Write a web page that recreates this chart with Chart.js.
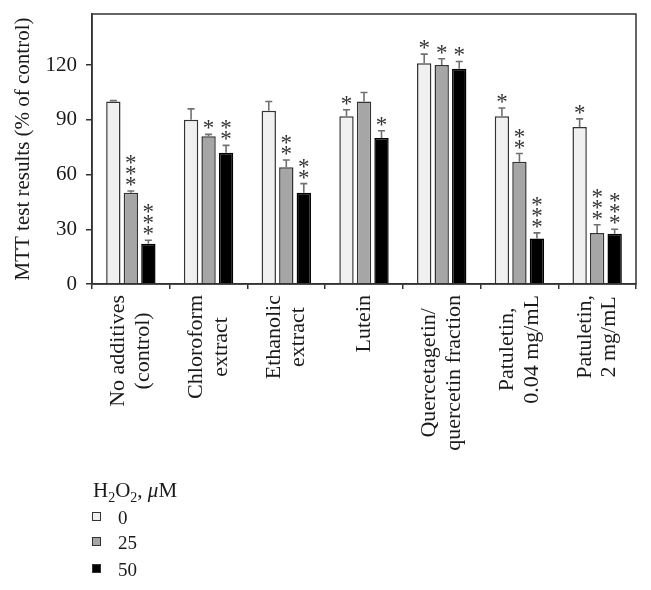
<!DOCTYPE html>
<html><head><meta charset="utf-8">
<script src="https://cdn.jsdelivr.net/npm/chart.js@4.4.1/dist/chart.umd.min.js"></script>
<style>
body{margin:0;background:#fff;}
#wrap{position:relative;width:651px;height:590px;overflow:hidden;background:#fff;}
canvas{position:absolute;left:0;top:0;}
#legend{position:absolute;left:0;top:0;width:651px;height:577px;overflow:hidden;pointer-events:none;font-family:'Liberation Serif',serif;color:#1a1a1a;}
.t{position:absolute;line-height:1;white-space:nowrap;}
.sw{position:absolute;width:7px;height:7px;border:1.2px solid #333;}
sub{font-size:14px;vertical-align:-5px;line-height:0;}
</style></head><body>
<div id="wrap"><canvas id="c" width="651" height="590"></canvas>
<div id="legend">
  <div class="t" style="left:93px;top:480px;font-size:21px;">H<sub>2</sub>O<sub>2</sub>, <i>μ</i>M</div>
  <div class="sw" style="left:92px;top:512px;background:#f0f0f0;"></div>
  <div class="t" id="l0" style="left:118px;top:508px;font-size:19px;"></div>
  <div class="sw" style="left:92px;top:537px;background:#a6a6a6;"></div>
  <div class="t" id="l1" style="left:118px;top:533px;font-size:19px;"></div>
  <div class="sw" style="left:92px;top:564px;background:#000;"></div>
  <div class="t" id="l2" style="left:118px;top:560px;font-size:19px;"></div>
</div>
</div>
<script>
const categories = [["No additives","(control)"],["Chloroform","extract"],["Ethanolic","extract"],"Lutein",["Quercetagetin/","quercetin fraction"],["Patuletin,","0.04 mg/mL"],["Patuletin,","2 mg/mL"]];
const seriesLabels = ["0","25","50"];
const h2o2_0  = [100, 90, 95, 92, 121, 92, 86];
const h2o2_25 = [50, 81, 64, 100, 120, 67, 28];
const h2o2_50 = [22, 72, 50, 80, 118, 25, 27.5];
const err_0  = [0.5, 6, 5, 3.5, 5, 4.5, 4.5];
const err_25 = [1, 1, 4, 5, 3.5, 4.5, 4.5];
const err_50 = [2, 4, 5, 4, 4, 3, 2.5];
const stars_0  = ["", "", "", "*", "*", "*", "*"];
const stars_25 = ["***", "*", "**", "", "*", "**", "***"];
const stars_50 = ["***", "**", "**", "*", "*", "***", "***"];
const yTicks = [0, 30, 60, 90, 120];
const yTitle = "MTT test results (% of control)";

const fills = ['#f0f0f0', '#a6a6a6', '#000000'];
const borders = ['#333333', '#333333', '#000000'];
const values = [h2o2_0, h2o2_25, h2o2_50];
const errs = [err_0, err_25, err_50];
const stars = [stars_0, stars_25, stars_50];

seriesLabels.forEach((s, i) => { document.getElementById('l' + i).textContent = s; });

Chart.defaults.font.family = "'Liberation Serif', serif";
Chart.defaults.color = '#1a1a1a';

const labelFix = {
  id: 'labelFix',
  beforeDraw(chart) {
    const s = chart.scales.x;
    const items = s.getLabelItems();
    if (items._fixed) return;
    items._fixed = true;
    const ctx = chart.ctx;
    items.forEach(it => {
      const lines = Array.isArray(it.label) ? it.label : [it.label];
      ctx.save(); ctx.font = it.font.string;
      const W = Math.max(...lines.map(l => ctx.measureText(l).width));
      ctx.restore();
      const lh = it.font.lineHeight;
      it.options.textAlign = 'center';
      it.options.translation[1] += W / 2;
      it.options.translation[0] -= (lines.length - 1) * lh / 2;
    });
  }
};

const extras = {
  id: 'extras',
  afterDatasetsDraw(chart) {
    const ctx = chart.ctx;
    const y = chart.scales.y;
    ctx.save();
    chart.data.datasets.forEach((ds, i) => {
      const meta = chart.getDatasetMeta(i);
      meta.data.forEach((el, j) => {
        const v = ds.data[j];
        const top = y.getPixelForValue(v + errs[i][j]);
        ctx.strokeStyle = '#707070';
        ctx.lineWidth = 1.6;
        ctx.beginPath();
        ctx.moveTo(el.x, el.y);
        ctx.lineTo(el.x, top);
        ctx.moveTo(el.x - 3.5, top);
        ctx.lineTo(el.x + 3.5, top);
        ctx.stroke();
        const n = stars[i][j].length;
        ctx.fillStyle = '#333';
        ctx.font = "23px 'Liberation Serif'";
        ctx.textAlign = 'center';
        ctx.textBaseline = 'alphabetic';
        const m = ctx.measureText('*');
        const asc = m.actualBoundingBoxAscent, desc = m.actualBoundingBoxDescent;
        for (let k = 0; k < n; k++) {
          const cy = top - 9.5 - k * 11;
          ctx.fillText('*', el.x, cy + (asc - desc) / 2);
        }
      });
    });
    const a = chart.chartArea;
    ctx.strokeStyle = '#333';
    ctx.lineWidth = 1.5;
    ctx.strokeRect(a.left, a.top, a.right - a.left, a.bottom - a.top);
    ctx.restore();
  }
};

new Chart(document.getElementById('c'), {
  type: 'bar',
  data: {
    labels: categories,
    datasets: values.map((d, i) => ({
      label: seriesLabels[i],
      data: d,
      backgroundColor: fills[i],
      borderColor: borders[i],
      borderWidth: 1.5,
      categoryPercentage: 0.676,
      barPercentage: 0.82
    }))
  },
  options: {
    responsive: false,
    animation: false,
    devicePixelRatio: 1,
    layout: { padding: { top: 14, right: 15, bottom: 126, left: 0 } },
    plugins: { legend: { display: false }, tooltip: { enabled: false } },
    scales: {
      x: {
        offset: true,
        grid: { drawOnChartArea: false, drawTicks: true, tickLength: 5, color: '#333', lineWidth: 1.5, offset: true },
        border: { display: true, color: '#333', width: 1.5 },
        ticks: { autoSkip: false, minRotation: 90, maxRotation: 90, padding: 6, color: '#1a1a1a',
                 font: { size: 22, lineHeight: 1.12 } },
        afterFit: s => { s.height = 180; s.paddingLeft = 0; s.paddingRight = 0; s.paddingTop = 0; s.paddingBottom = 0; }
      },
      y: {
        min: 0, max: 148,
        afterBuildTicks: s => { s.ticks = yTicks.map(v => ({ value: v })); },
        grid: { drawOnChartArea: false, tickLength: 6, color: '#333', lineWidth: 1.5 },
        border: { display: true, color: '#333', width: 1.5 },
        ticks: { padding: 9, color: '#1a1a1a', font: { size: 21 } },
        title: { display: true, text: yTitle, color: '#1a1a1a', font: { size: 21 }, padding: { top: 11, bottom: 0 } },
        afterFit: s => { s.width = 92; s.paddingTop = 0; s.paddingBottom = 0; s.paddingLeft = 0; s.paddingRight = 0; }
      }
    }
  },
  plugins: [labelFix, extras]
});
</script>
</body></html>
